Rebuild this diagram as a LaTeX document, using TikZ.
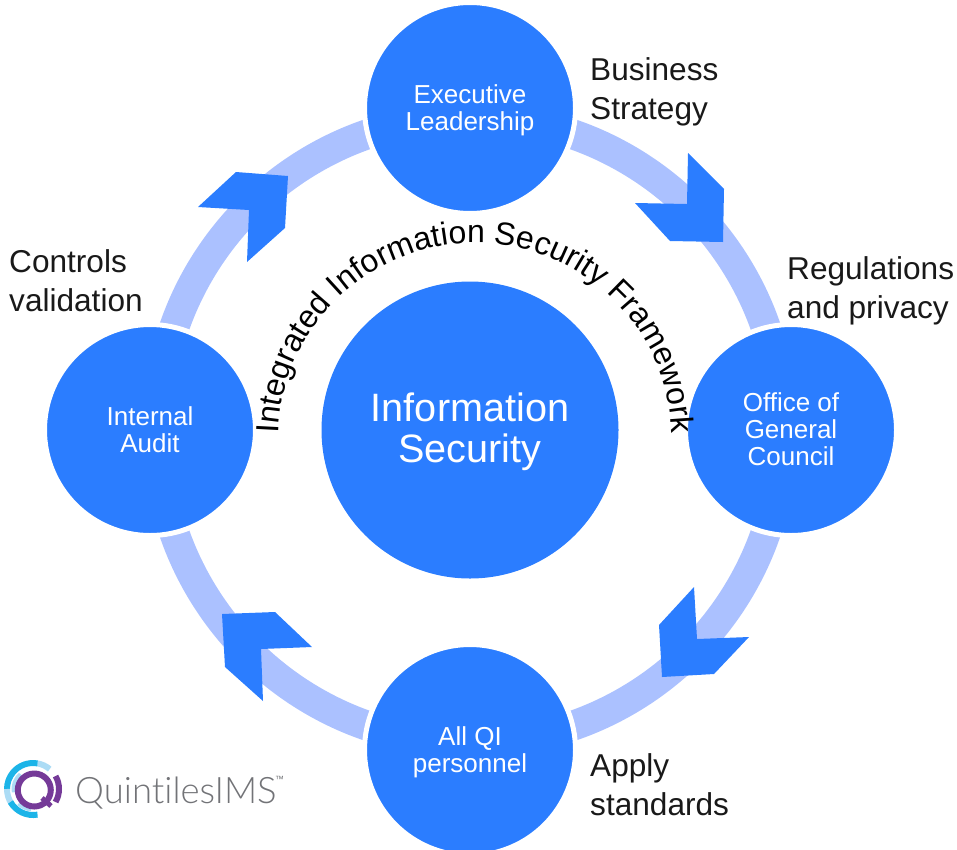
\documentclass[tikz,border=0pt]{standalone}
\usepackage{fontspec}
\setmainfont{Liberation Sans}
\newfontfamily\logofont[Ligatures=NoCommon]{Lato Light}
\usetikzlibrary{decorations.text}
\definecolor{qiblue}{HTML}{2B7DFF}
\definecolor{qiband}{HTML}{ABC1FF}
\definecolor{qicyan}{HTML}{1CB4E8}
\definecolor{qisky}{HTML}{ACDCF5}
\definecolor{qipurple}{HTML}{753A98}
\definecolor{qigray}{HTML}{727377}
\tikzset{
  hub/.style={circle,fill=qiblue,draw=white,line width=5pt,inner sep=0pt,minimum size=211pt},
  hubtext/.style={text=white,align=center,inner sep=0pt,font=\fontsize{26}{27}\selectfont},
  core/.style={circle,fill=qiblue,inner sep=0pt,minimum size=297pt},
  coretext/.style={hubtext,font=\fontsize{39.6}{41.5}\selectfont},
  note/.style={text=black!90,align=left,anchor=west,font=\fontsize{31.6}{39}\selectfont,inner sep=0pt},
  band/.style={draw=qiband,line width=30pt},
  chevron/.style={fill=qiblue}
}
\def\logoarc#1#2#3#4#5{
  \draw[#1,line width=#2pt] (logo) ++(#3:#5) arc[start angle=#3,end angle=#4,radius=#5];
}
\begin{document}
\begin{tikzpicture}[x=1pt,y=-1pt]
\useasboundingbox (0,0) rectangle (957,849);
% ring
\coordinate (mid) at (470,430);
\draw[band] (mid) circle[radius=313];
% arrow heads
\fill[chevron] (688,153) -- (724,189) -- (723,242) -- (670,241) -- (635,203) -- (687,204) -- cycle;
\fill[chevron] (694,587) -- (697,639) -- (749,637) -- (714,674) -- (662,677) -- (659,625) -- cycle;
\fill[chevron] (222,614) -- (275,612) -- (312,647) -- (261,649) -- (263,701) -- (225,667) -- cycle;
\fill[chevron] (198,207) -- (236,172) -- (288,176) -- (285,228) -- (247,262) -- (249,210) -- cycle;
% circles
\node[hub] (exec) at (470,108) {};
\node[hub] (council) at (791,430) {};
\node[hub] (staff) at (470,750) {};
\node[hub] (audit) at (150,430) {};
\node[core] (infosec) at (mid) {};
\node[hubtext] (exectext) at (470,110.5) {Executive\\Leadership};
\node[hubtext] (counciltext) at (791,429) {Office of\\General\\Council};
\node[hubtext] (stafftext) at (470,752.5) {All QI\\personnel};
\node[hubtext] (audittext) at (150,430) {Internal\\Audit};
\node[coretext] (coretitle) at (470,432) {Information\\Security};
% curved title
\coordinate (arcmid) at (475,440);
\path[decorate,decoration={text along path,text align=center,
    text={|\fontsize{32}{32}\selectfont|Integrated Information Security Framework}}]
  (arcmid) ++(180:197) arc[start angle=180,end angle=360,radius=197];
% notes
\node[note] (strategy) at (590,92) {Business\\Strategy};
\node[note] (privacy) at (787,291) {Regulations\\and privacy};
\node[note] (standards) at (590,785) {Apply\\standards};
\node[note] (controls) at (9,281) {Controls\\validation};
% logo
\coordinate (logo) at (33,789);
\logoarc{qisky}{6}{-50}{-80}{26}
\logoarc{qicyan}{6}{-80}{-180}{26}
\logoarc{qisky}{6}{-180}{-215}{26}
\logoarc{qicyan}{6}{-210}{-280}{26}
\logoarc{qisky}{5}{-130}{-190}{19}
\logoarc{qisky}{5}{-225}{-265}{20}
\logoarc{qipurple}{6}{-30}{30}{26}
\draw[qipurple,line width=6pt] (34.3,790) circle[radius=16.5];
\draw[qipurple,line width=5pt] (42,798) -- (51,806);
\node[anchor=base west,inner sep=0pt,text=qigray,font=\logofont\fontsize{36.5}{37}\selectfont] (brand) at (75,803) {QuintilesIMS};
\node[anchor=west,inner sep=0pt,text=qigray,font=\fontsize{9}{9}\selectfont] (trademark) at (275,779) {™};
\end{tikzpicture}
\end{document}
